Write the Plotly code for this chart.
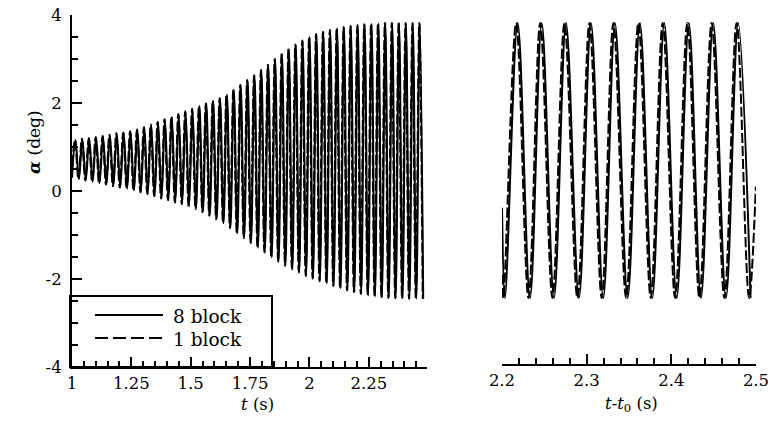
import plotly.graph_objects as go

# ---------------- data ----------------
left_t_start = 1.0          # s, first trough
left_period = 0.029         # s, oscillation period
left_troughs_8block = [0.30, 0.27, 0.24, 0.21, 0.18, 0.15, 0.11, 0.08, 0.05, 0.01,
                       -0.03, -0.07, -0.12, -0.17, -0.21, -0.26, -0.30, -0.35, -0.41, -0.48,
                       -0.56, -0.64, -0.73, -0.84, -0.96, -1.07, -1.18, -1.29, -1.40, -1.51,
                       -1.61, -1.70, -1.78, -1.85, -1.93, -1.99, -2.05, -2.10, -2.16, -2.21,
                       -2.26, -2.30, -2.34, -2.37, -2.40, -2.42, -2.43, -2.44, -2.44, -2.45,
                       -2.45, -2.45]
left_peaks_8block = [1.16, 1.18, 1.20, 1.22, 1.25, 1.28, 1.31, 1.33, 1.36, 1.40,
                     1.45, 1.51, 1.57, 1.63, 1.69, 1.75, 1.81, 1.87, 1.93, 1.99,
                     2.05, 2.11, 2.19, 2.30, 2.41, 2.52, 2.63, 2.75, 2.87, 3.00,
                     3.12, 3.23, 3.33, 3.42, 3.50, 3.57, 3.62, 3.66, 3.70, 3.73,
                     3.75, 3.77, 3.79, 3.80, 3.81, 3.82, 3.82, 3.82, 3.82, 3.82, 3.82]
left_t_start_1block = 0.998
left_troughs_1block = list(left_troughs_8block)
left_peaks_1block = list(left_peaks_8block)

right_t_8block = [2.2000, 2.2035, 2.2185, 2.2331, 2.2469, 2.2614, 2.2756, 2.2909, 2.3051,
                  2.3196, 2.3334, 2.3484, 2.3629, 2.3775, 2.3916, 2.4063, 2.4207, 2.4350,
                  2.4494, 2.4645, 2.4789, 2.4936]
right_alpha_8block = [-0.38, -2.43, 3.82, -2.43, 3.82, -2.43, 3.82, -2.43, 3.82,
                      -2.43, 3.82, -2.43, 3.82, -2.43, 3.82, -2.43, 3.82, -2.43,
                      3.82, -2.43, 3.82, -2.43]
right_t_1block = [2.2000, 2.2017, 2.2167, 2.2313, 2.2451, 2.2596, 2.2738, 2.2891, 2.3033,
                  2.3178, 2.3316, 2.3466, 2.3611, 2.3757, 2.3898, 2.4045, 2.4189, 2.4332,
                  2.4476, 2.4627, 2.4771, 2.4918, 2.4998]
right_alpha_1block = [-1.90, -2.43, 3.82, -2.43, 3.82, -2.43, 3.82, -2.43, 3.82,
                      -2.43, 3.82, -2.43, 3.82, -2.43, 3.82, -2.43, 3.82, -2.43,
                      3.82, -2.43, 3.82, -2.43, 0.10]

left_xticks = [1, 1.25, 1.5, 1.75, 2, 2.25]
left_xticklabels = ["1", "1.25", "1.5", "1.75", "2", "2.25"]
left_yticks = [-4, -2, 0, 2, 4]
left_yticklabels = ["-4", "-2", "0", "2", "4"]
right_xticks = [2.2, 2.3, 2.4, 2.5]
right_xticklabels = ["2.2", "2.3", "2.4", "2.5"]
legend_labels = ["8 block", "1 block"]


def extrema_series(t0, period, troughs, peaks):
    t, y = [], []
    n = len(troughs) + len(peaks)
    for i in range(n):
        t.append(t0 + i * period / 2.0)
        y.append(troughs[i // 2] if i % 2 == 0 else peaks[i // 2])
    return t, y


t8, a8 = extrema_series(left_t_start, left_period, left_troughs_8block, left_peaks_8block)
t1, a1 = extrema_series(left_t_start_1block, left_period, left_troughs_1block, left_peaks_1block)

W, H = 770, 424
FONT = "DejaVu Serif"
DASH_CURVE = "10px,3px"
DASH_LEGEND = "13px,5px"


def px(x):
    return x / W


def py(y):
    return 1 - y / H


fig = go.Figure()
fig.add_trace(go.Scatter(x=t8, y=a8, mode="lines", name=legend_labels[0],
                         line=dict(color="black", width=2, shape="spline"),
                         xaxis="x", yaxis="y"))
fig.add_trace(go.Scatter(x=t1, y=a1, mode="lines", name=legend_labels[1],
                         line=dict(color="black", width=2, dash=DASH_CURVE, shape="spline"),
                         xaxis="x", yaxis="y"))
fig.add_trace(go.Scatter(x=right_t_8block, y=right_alpha_8block, mode="lines", name=legend_labels[0],
                         line=dict(color="black", width=2, shape="spline"),
                         xaxis="x2", yaxis="y2"))
fig.add_trace(go.Scatter(x=right_t_1block, y=right_alpha_1block, mode="lines", name=legend_labels[1],
                         line=dict(color="black", width=2, dash=DASH_CURVE, shape="spline"),
                         xaxis="x2", yaxis="y2"))

axis_style = dict(showline=True, linewidth=2, linecolor="black", ticks="inside",
                  ticklen=10, tickwidth=2, tickcolor="black", showgrid=False,
                  zeroline=False, automargin=False, ticklabeloverflow="allow",
                  tickfont=dict(family=FONT, size=16.5, color="black"))


def minor(tick0, dtick):
    return dict(ticks="inside", ticklen=6, tickwidth=2, tickcolor="black",
                tickmode="linear", tick0=tick0, dtick=dtick, showgrid=False)


fig.update_layout(
    template="none",
    width=W, height=H, margin=dict(l=0, r=0, t=0, b=0, pad=0), autosize=False,
    paper_bgcolor="white", plot_bgcolor="rgba(0,0,0,0)", showlegend=False,
    font=dict(family=FONT, size=16, color="black"),
    xaxis=dict(domain=[px(72), px(427)], range=[1, 2.495], anchor="y",
               tickmode="array", tickvals=left_xticks, ticktext=left_xticklabels,
               minor=minor(1, 0.05), **axis_style),
    yaxis=dict(domain=[py(367), py(15)], range=[-4, 4], anchor="x",
               tickmode="array", tickvals=left_yticks, ticktext=left_yticklabels,
               ticklabelstandoff=5, minor=minor(-4, 0.5), **axis_style),
    xaxis2=dict(domain=[px(502), px(756)], range=[2.2, 2.5], anchor="y2",
                tickmode="array", tickvals=right_xticks, ticktext=right_xticklabels,
                minor=minor(2.2, 0.02), **axis_style),
    yaxis2=dict(domain=[py(364), py(15)], range=[-3.93, 4], anchor="x2", visible=False,
                automargin=False),
)

shapes = [
    dict(type="rect", xref="paper", yref="paper", x0=px(70), x1=px(272), y0=py(367), y1=py(296),
         line=dict(color="black", width=2), fillcolor="rgba(0,0,0,0)"),
    dict(type="line", xref="paper", yref="paper", x0=px(95), x1=px(163), y0=py(315), y1=py(315),
         line=dict(color="black", width=2)),
    dict(type="line", xref="paper", yref="paper", x0=px(95), x1=px(163), y0=py(338), y1=py(338),
         line=dict(color="black", width=2, dash=DASH_LEGEND)),
]
annotations = [
    dict(text=legend_labels[0], x=px(171), y=py(316), xref="paper", yref="paper",
         xanchor="left", yanchor="middle", showarrow=False, font=dict(family=FONT, size=18.5)),
    dict(text=legend_labels[1], x=px(171), y=py(339), xref="paper", yref="paper",
         xanchor="left", yanchor="middle", showarrow=False, font=dict(family=FONT, size=18.5)),
    dict(text="<i>t</i> (s)", x=px(257), y=py(404), xref="paper", yref="paper",
         xanchor="center", yanchor="middle", showarrow=False, font=dict(family=FONT, size=16.5)),
    dict(text="<i>t</i>-<i>t</i><sub>0</sub> (s)", x=px(631), y=py(404), xref="paper", yref="paper",
         xanchor="center", yanchor="middle", showarrow=False, font=dict(family=FONT, size=16.5)),
    dict(text="<b><i>α</i></b> (deg)", x=px(34), y=py(142), xref="paper", yref="paper",
         xanchor="center", yanchor="middle", textangle=-90, showarrow=False,
         font=dict(family=FONT, size=17)),
]
fig.update_layout(shapes=shapes, annotations=annotations)

fig.write_html("out.html", config={"displayModeBar": False},
               post_script="document.body.style.margin='0';document.body.style.overflow='hidden';")
